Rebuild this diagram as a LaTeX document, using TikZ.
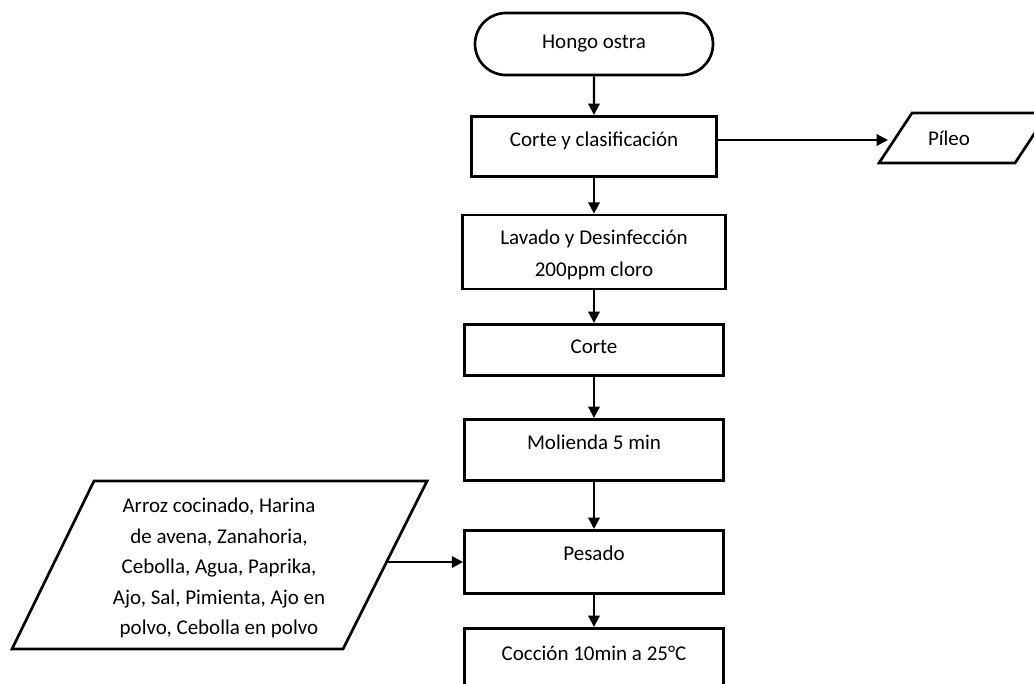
\documentclass[tikz,border=0pt]{standalone}
\usepackage{fontspec}
\setmainfont{Carlito}
\usetikzlibrary{arrows.meta,shapes.misc}

\tikzset{
    term/.style={draw, line width=2pt, rounded rectangle, minimum width=178.5pt, minimum height=46.5pt, inner sep=0pt},
    proc/.style={draw, line width=2pt, anchor=north, inner sep=0pt, minimum width=194.25pt},
    dato/.style={draw, line width=2pt, line join=miter},
    flecha/.style={-{Triangle[length=8.5pt,width=8.5pt]}, line width=1.7pt},
}

\begin{document}
\begin{tikzpicture}[x=0.75pt,y=-0.75pt, font=\fontsize{15.75}{23.5}\selectfont]
    \useasboundingbox (0,0) rectangle (1034,683);
    \clip (0,0) rectangle (1034,683);
    % proceso principal
    \node [term] (hongo) at (594,44) {Hongo ostra};
    \node [proc, minimum width=183.75pt, text height=22.5pt, text depth=22.5pt] (clasif) at (594,115) {Corte y clasificación};
    \node [proc, anchor=center, minimum width=197.25pt, minimum height=55.5pt, align=center, font=\fontsize{15.75}{24}\selectfont] (lavado) at (594,252) {\rule{0pt}{16pt}Lavado y Desinfección\\200ppm cloro};
    \node [proc, text height=21.75pt, text depth=16.5pt] (corte) at (594,323) {Corte};
    \node [proc, text height=22.5pt, text depth=23.25pt] (molienda) at (594,418) {Molienda 5 min};
    \node [proc, text height=22.5pt, text depth=24.75pt] (pesado) at (594,529) {Pesado};
    \node [proc, text height=24pt, text depth=30pt] (coccion) at (594,627) {Cocción 10min a 25°C};
    % entradas y salidas
    \draw [dato] (912,113) -- (1048,113) -- (1015,163) -- (879,163) -- cycle;
    \node (pileo) at (949,138) {Píleo};
    \coordinate (pileoIn) at (888,140);
    \draw [dato] (94,481) -- (427,481) -- (343,649) -- (12,649) -- cycle;
    \node [align=center, font=\fontsize{15.75}{22.9}\selectfont] (ingred) at (219,568)
        {Arroz cocinado, Harina\\de avena, Zanahoria,\\Cebolla, Agua, Paprika,\\Ajo, Sal, Pimienta, Ajo en\\polvo, Cebolla en polvo};
    \coordinate (ingredOut) at (385,562);
    % flechas
    \draw [flecha] (hongo) -- (clasif);
    \draw [flecha] (clasif) -- (lavado);
    \draw [flecha] (lavado) -- (corte);
    \draw [flecha] (corte) -- (molienda);
    \draw [flecha] (molienda) -- (pesado);
    \draw [flecha] (pesado) -- (coccion);
    \draw [flecha] (clasif.east |- pileoIn) -- (pileoIn);
    \draw [flecha] (ingredOut) -- (pesado.west |- ingredOut);
\end{tikzpicture}
\end{document}
